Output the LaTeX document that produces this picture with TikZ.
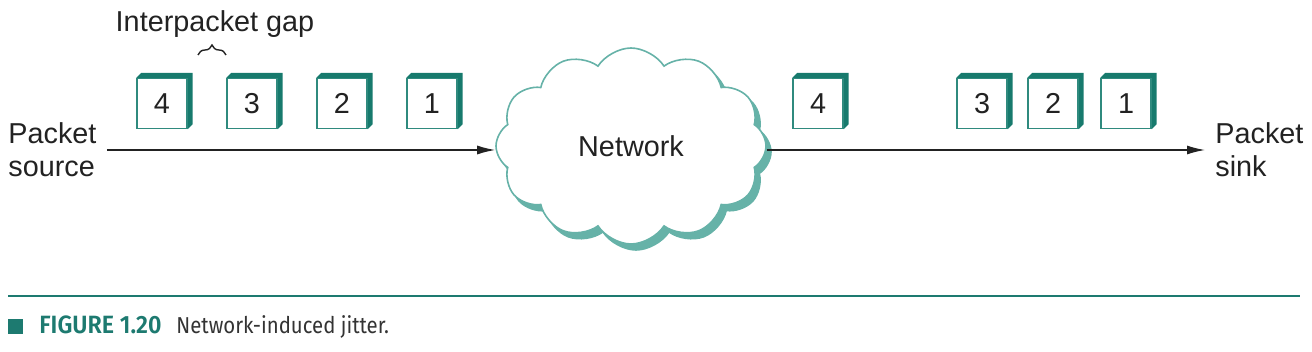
\documentclass[tikz,border=0pt]{standalone}
\usepackage{fontspec}
\setmainfont{Liberation Sans}
\newfontfamily\capfont[FakeStretch=0.886]{Fira Sans}
\newfontfamily\capboldfont[FakeStretch=0.93]{Fira Sans SemiBold}
\usetikzlibrary{shapes.symbols,arrows.meta,decorations.pathreplacing,shadows,backgrounds}
\definecolor{deepteal}{HTML}{177A6D}
\definecolor{rimteal}{HTML}{2F8A7E}
\definecolor{cloudteal}{HTML}{66B2A8}
\definecolor{capteal}{HTML}{1D7A70}
\definecolor{ink}{HTML}{222222}
\definecolor{capink}{HTML}{333333}
\tikzset{
  pkt/.style={draw=rimteal, line width=0.7pt, fill=white, minimum size=25pt, inner sep=0pt},
  pktdepth/.style={fill=deepteal},
  arr/.style={-{Latex[length=9pt,width=4.5pt]}, line width=0.7pt, draw=ink},
  netcloud/.style={cloud, cloud puffs=12, cloud puff arc=115, cloud ignores aspect,
    minimum width=135pt, minimum height=98pt, draw=cloudteal, line width=0.8pt, fill=white,
    copy shadow={shadow xshift=2.5pt, shadow yshift=-3pt, fill=cloudteal, draw=cloudteal}},
  lbl/.style={inner sep=0pt, align=left},
}
\begin{document}
\begin{tikzpicture}[x=0.5pt, y=-0.5pt, font=\fontsize{14.4}{16.5}\selectfont, text=ink]
\useasboundingbox (0,0) rectangle (1312,352);
% sent packets
\node[pkt] (s4) at (162,103.5) {4};
\node[pkt] (s3) at (252,103.5) {3};
\node[pkt] (s2) at (342,103.5) {2};
\node[pkt] (s1) at (432,103.5) {1};
% received packets
\node[pkt] (r4) at (818,103.5) {4};
\node[pkt] (r3) at (982,103.5) {3};
\node[pkt] (r2) at (1053,103.5) {2};
\node[pkt] (r1) at (1126,103.5) {1};
\begin{scope}[on background layer]
\foreach \p in {s4,s3,s2,s1,r4,r3,r2,r1}{
  \fill[pktdepth] (\p.north west) -- ([xshift=2.5pt,yshift=2.5pt]\p.north west)
    -- ([xshift=2.5pt,yshift=2.5pt]\p.north east) -- ([xshift=2.5pt,yshift=2.5pt]\p.south east)
    -- (\p.south east) -- (\p.north east) -- cycle;
}
\end{scope}
% network
\node[netcloud] (net) at (631,146) {Network};
\node[lbl, anchor=west] (src) at (8,150) {Packet\\source};
\node[lbl, anchor=west] (snk) at (1215,150) {Packet\\sink};
\draw[arr, shorten <=5pt] (src.east) -- (src.east -| net.west);
\draw[arr, shorten >=5pt] (net.east |- snk.west) -- (snk.west);
% gap label
\node (gaplbl) at (215,24) {Interpacket gap};
\coordinate (gapL) at (198,55);
\coordinate (gapR) at (226,55);
\draw[ink, line width=0.7pt, decorate, decoration={brace, amplitude=5pt}] (gapL) -- (gapR);
% caption
\coordinate (ruleL) at (8,296);
\coordinate (ruleR) at (1300,296);
\draw[capteal, line width=1pt] (ruleL) -- (ruleR);
\node[fill=capteal, minimum size=7.5pt, inner sep=0pt] (capsq) at (15.5,326.5) {};
\node[anchor=base west, inner sep=0pt, text=capteal, font=\capboldfont\fontsize{12.5}{14}\selectfont] (capnum) at (39,334) {FIGURE 1.20};
\node[anchor=base west, inner sep=0pt, text=capink, font=\capfont\fontsize{11.5}{13}\selectfont] (captxt) at (176,334) {Network-induced jitter.};
\end{tikzpicture}
\end{document}
